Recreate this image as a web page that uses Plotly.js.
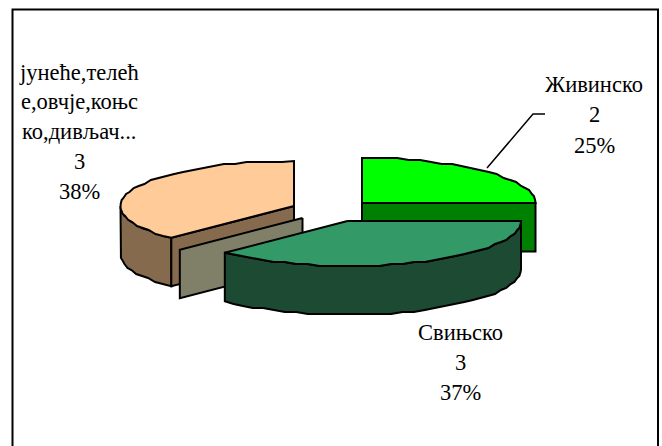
<!DOCTYPE html>
<html><head><meta charset="utf-8">
<script src="https://cdn.plot.ly/plotly-3.0.1.min.js"></script>
<style>html,body{margin:0;padding:0;background:#fff}</style>
</head><body><div id="chart" style="width:662px;height:446px"></div>
<script>
// Data
var categories = ["Живинско", "Свињско", "јунеће,телеће,овчје,коњско,дивљач..."];
var values = [2, 3, 3];
var percents = [25, 37, 38];
var wrappedNames = [["Живинско"], ["Свињско"], ["јунеће,телећ", "е,овчје,коњс", "ко,дивљач..."]];
var topColors = ["#00ff00", "#339966", "#ffcc99"];
var sideColors = ["#008000", "#1c4a33", "#866a4e"];

// Exploded 3-D pie projection
var rx = 173.5, ry = 45, depth = 48.5;
var apexes = [[362, 203], [347.5, 221], [294, 206]];
var labelAnchors = [[594, 84], [460, 332], [79, 72]];
var lineGap = [30.5, 30, 29.8];

var total = values.reduce(function (a, b) { return a + b; }, 0);
var starts = [], ends = [], acc = 0;
values.forEach(function (v) { starts.push(acc); acc += v / total * 360; ends.push(acc); });

function pt(c, deg, dz) {
  var a = deg * Math.PI / 180;
  return [c[0] + rx * Math.sin(a), c[1] - ry * Math.cos(a) + (dz || 0)];
}
// The source drew its rims as coarse polygons, snapped to a pixel grid
var snap = 2;
function arc(c, a0, a1, dz) {
  var n = Math.max(2, Math.round(Math.abs(a1 - a0) / 4)), out = [];
  for (var i = 0; i <= n; i++) {
    var p = pt(c, a0 + (a1 - a0) * i / n, dz);
    if (i > 0 && i < n) p = [p[0], Math.round(p[1] / snap) * snap];
    out.push(p);
  }
  return out;
}
function poly(points, color, name) {
  var closed = points.concat([points[0]]);
  return {
    type: "scatter", mode: "lines", fill: "toself", fillcolor: color, name: name,
    x: closed.map(function (p) { return p[0]; }),
    y: closed.map(function (p) { return p[1]; }),
    line: { color: "#000", width: 2, shape: "linear" },
    hoverinfo: "name", showlegend: false
  };
}
function cutFace(c, deg, color, name) {
  var e = pt(c, deg);
  return poly([c, e, [e[0], e[1] + depth], [c[0], c[1] + depth]], color, name);
}
function outerWall(c, a0, a1, color, name) {
  return poly(arc(c, a0, a1, 0).concat(arc(c, a1, a0, depth)), color, name);
}
function topFace(c, a0, a1, color, name) {
  return poly([c].concat(arc(c, a0, a1, 0)), color, name);
}

var traces = [];
traces.push(cutFace(apexes[0], ends[0], sideColors[0], categories[0]));
traces.push(topFace(apexes[0], starts[0], ends[0], topColors[0], categories[0]));
traces.push(outerWall(apexes[2], starts[2], 270, sideColors[2], categories[2]));
traces.push(cutFace(apexes[2], starts[2], sideColors[2], categories[2]));
traces.push(topFace(apexes[2], starts[2], ends[2], topColors[2], categories[2]));
var paleOffset = [-45, -3];
traces.push(cutFace([apexes[1][0] + paleOffset[0], apexes[1][1] + paleOffset[1]], starts[2], "#7f8067", categories[1]));
traces.push(outerWall(apexes[1], ends[0], ends[1], sideColors[1], categories[1]));
traces.push(topFace(apexes[1], starts[1], ends[1], topColors[1], categories[1]));
traces.push({ type: "scatter", mode: "lines", x: [487, 533, 545], y: [168, 114, 114],
  line: { color: "#000", width: 1.5 }, hoverinfo: "skip", showlegend: false });

var annotations = [];
categories.forEach(function (c, i) {
  var lines = wrappedNames[i].concat([String(values[i]), percents[i] + "%"]);
  lines.forEach(function (t, j) {
    annotations.push({ x: labelAnchors[i][0], y: labelAnchors[i][1] + j * lineGap[i], text: t,
      xref: "x", yref: "y", showarrow: false, xanchor: "center", yanchor: "middle",
      font: { family: "Liberation Serif", size: 22.5, color: "#000" } });
  });
});

Plotly.newPlot("chart", traces, {
  width: 662, height: 446, margin: { l: 0, r: 0, t: 0, b: 0 },
  paper_bgcolor: "#fff", plot_bgcolor: "#fff", showlegend: false,
  xaxis: { range: [0, 662], visible: false, fixedrange: true },
  yaxis: { range: [446, 0], visible: false, fixedrange: true },
  annotations: annotations,
  shapes: [{ type: "rect", xref: "x", yref: "y", x0: 12.5, y0: 9.5, x1: 658, y1: 452,
    line: { color: "#000", width: 2 }, fillcolor: "rgba(0,0,0,0)", layer: "below" }]
}, { displayModeBar: false, staticPlot: true });
</script></body></html>
